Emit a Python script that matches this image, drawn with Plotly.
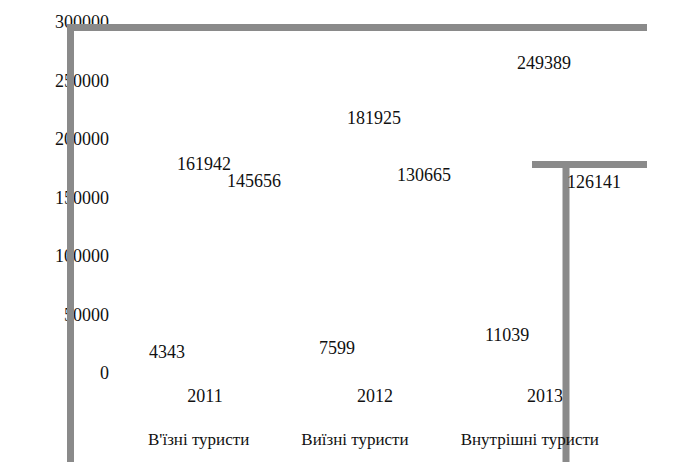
import plotly.graph_objects as go

# ---- data ----
years = ["2011", "2012", "2013"]
series_names = ["В'їзні туристи", "Виїзні туристи", "Внутрішні туристи"]
inbound = [4343, 7599, 11039]
outbound = [161942, 181925, 249389]
domestic = [145656, 130665, 126141]
y_ticks = [0, 50000, 100000, 150000, 200000, 250000, 300000]

series_values = [inbound, outbound, domestic]

# ---- styling ----
OFF = 8                      # page body margin in the browser
W, H = 681 - OFF, 464 - OFF
L, R, T, B = 102, 41, 14, 91
PW, PH = W - L - R, H - T - B
FONT = "Liberation Serif"
TXT = "#111111"
GREY = "#8a8a8a"
series_xshift = [-38, -1, 49]                # label offset of each series inside a year group (px)
label_yshift = [[16, 16, 25],                # label lift above its value (px), as in the original
                [20, 42, 18],
                [22, 45, 43]]

fig = go.Figure()
for name, vals in zip(series_names, series_values):
    fig.add_trace(go.Bar(
        x=years, y=vals, name=name,
        marker=dict(color="rgba(0,0,0,0)", line=dict(width=0)),
        hoverinfo="skip",
    ))

annotations = []
for si, vals in enumerate(series_values):
    for yi, v in enumerate(vals):
        annotations.append(dict(
            x=yi, y=v, xref="x", yref="y",
            text=str(v), showarrow=False,
            xanchor="center", yanchor="middle",
            xshift=series_xshift[si], yshift=label_yshift[si][yi],
            font=dict(family=FONT, size=18, color=TXT),
        ))

# window pixel -> paper fraction
def px_x(p):
    return (p - OFF - L) / PW

def px_y(p):
    return (H - B - (p - OFF)) / PH

line_style = dict(color=GREY, width=7)
shapes = [
    dict(type="line", xref="paper", yref="paper", x0=px_x(70.5), x1=px_x(70.5), y0=px_y(462), y1=px_y(24), line=line_style, layer="above"),
    dict(type="line", xref="paper", yref="paper", x0=px_x(67), x1=px_x(647), y0=px_y(27.5), y1=px_y(27.5), line=line_style, layer="above"),
    dict(type="line", xref="paper", yref="paper", x0=px_x(566), x1=px_x(566), y0=px_y(462), y1=px_y(162), line=line_style, layer="above"),
    dict(type="line", xref="paper", yref="paper", x0=px_x(532), x1=px_x(647), y0=px_y(164.5), y1=px_y(164.5), line=line_style, layer="above"),
]

fig.update_layout(
    template="none",
    width=W, height=H,
    margin=dict(l=L, r=R, t=T, b=B, pad=0, autoexpand=False),
    paper_bgcolor="white", plot_bgcolor="white",
    font=dict(family=FONT, size=18, color=TXT),
    barmode="group",
    showlegend=True,
    legend=dict(
        orientation="h", x=px_x(101), xanchor="left",
        y=px_y(421), yanchor="top",
        itemwidth=37,
        font=dict(family=FONT, size=17, color=TXT),
        bgcolor="rgba(0,0,0,0)", borderwidth=0,
    ),
    xaxis=dict(
        type="category", range=[-0.559, 2.559], automargin=False,
        showline=False, showgrid=False, zeroline=False, ticks="",
        tickfont=dict(family=FONT, size=18, color=TXT),
        ticklabelstandoff=10,
    ),
    yaxis=dict(
        range=[0, 300000], tickvals=y_ticks, tickformat="d", automargin=False,
        showline=False, showgrid=False, zeroline=False, ticks="",
        tickfont=dict(family=FONT, size=18, color=TXT),
    ),
    annotations=annotations,
    shapes=shapes,
)

fig.write_html("out.html")
